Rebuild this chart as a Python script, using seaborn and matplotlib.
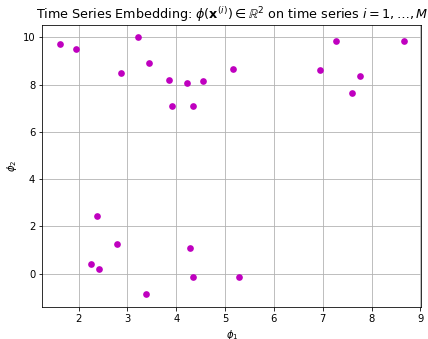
import matplotlib
matplotlib.use("Agg")
import matplotlib.pyplot as plt
import seaborn as sns
import pandas as pd

phi1 = [1.61, 1.95, 3.21, 3.44, 2.86, 3.85, 4.23, 4.54, 3.91, 4.34, 5.16,
        7.28, 8.67, 6.94, 7.76, 7.60,
        2.38, 2.78, 2.25, 2.41, 3.38, 4.29, 4.35, 5.29]
phi2 = [9.72, 9.53, 10.0, 8.90, 8.48, 8.18, 8.07, 8.14, 7.10, 7.10, 8.66,
        9.83, 9.86, 8.61, 8.38, 7.64,
        2.46, 1.24, 0.42, 0.18, -0.87, 1.07, -0.13, -0.14]

df = pd.DataFrame({"phi1": phi1, "phi2": phi2})

fig = plt.figure(figsize=(428/72, 339/72), dpi=72)
ax = fig.add_axes([0.0988, 0.0944, 0.886, 0.833])
sns.scatterplot(data=df, x="phi1", y="phi2", color="m", s=45, linewidth=0, ax=ax)
ax.margins(0.05)
ax.grid(True)
ax.set_axisbelow(True)
ax.set_xlabel(r"$\phi_1$")
ax.set_ylabel(r"$\phi_2$")
ax.set_title(r"Time Series Embedding: $\phi(\mathbf{x}^{(i)}) \in \mathbb{R}^2$ on time series $i = 1, \ldots, M$", fontsize=12.7)
fig.savefig("out.png", dpi=72)
